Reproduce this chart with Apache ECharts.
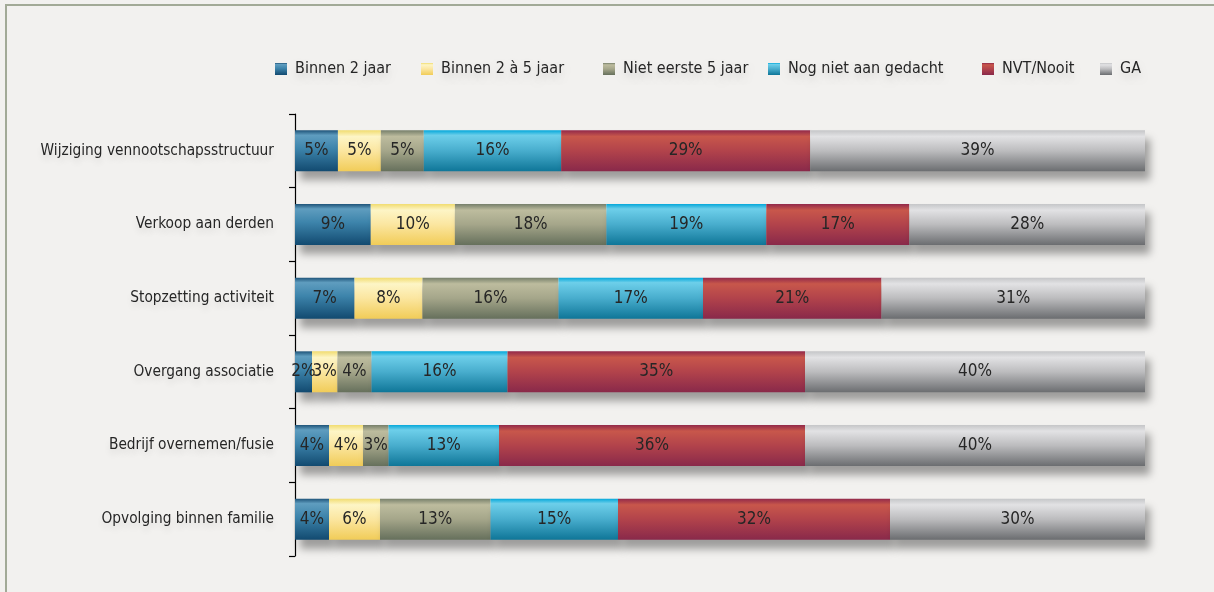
<!DOCTYPE html>
<html>
<head>
<meta charset="utf-8">
<script src="https://cdn.jsdelivr.net/npm/echarts@6/dist/echarts.min.js"></script>
<style>
html,body{margin:0;padding:0;background:#f2f1ef;}
#chart{width:1214px;height:592px;}
</style>
</head>
<body>
<div id="chart"></div>
<script>
var categories = [
  'Wijziging vennootschapsstructuur',
  'Verkoop aan derden',
  'Stopzetting activiteit',
  'Overgang associatie',
  'Bedrijf overnemen/fusie',
  'Opvolging binnen familie'
];
var seriesNames = ['Binnen 2 jaar', 'Binnen 2 à 5 jaar', 'Niet eerste 5 jaar', 'Nog niet aan gedacht', 'NVT/Nooit', 'GA'];
var binnen2 = [5, 9, 7, 2, 4, 4];
var binnen2tot5 = [5, 10, 8, 3, 4, 6];
var nietEerste5 = [5, 18, 16, 4, 3, 13];
var nogNiet = [16, 19, 17, 16, 13, 15];
var nvtNooit = [29, 17, 21, 35, 36, 32];
var ga = [39, 28, 31, 40, 40, 30];

var allValues = [binnen2, binnen2tot5, nietEerste5, nogNiet, nvtNooit, ga];

var FONT = '"Liberation Sans Narrow", "DejaVu Sans Condensed", "Open Sans", sans-serif';

function grad(stops) {
  return new echarts.graphic.LinearGradient(0, 0, 0, 1, stops.map(function (s) {
    return { offset: s[0], color: s[1] };
  }));
}
var gradients = [
  grad([[0, '#1f5479'], [0.12, '#5f9dbf'], [0.45, '#3d84ab'], [1, '#124a70']]),
  grad([[0, '#f1dc70'], [0.15, '#fdf5c6'], [0.5, '#fbe6a0'], [1, '#f1cc58']]),
  grad([[0, '#767f6a'], [0.15, '#bdbc9e'], [0.5, '#a5a68a'], [1, '#66705c']]),
  grad([[0, '#05a8da'], [0.12, '#6dcfea'], [0.5, '#48adcd'], [1, '#0f7698']]),
  grad([[0, '#92294a'], [0.15, '#c8574b'], [0.5, '#b2434b'], [1, '#89294a']]),
  grad([[0, '#c5c6c8'], [0.15, '#e2e2e4'], [0.5, '#bcbcbe'], [1, '#6b6d70']])
];

// row totals used to normalise each bar to 100%
var rowTotals = categories.map(function (c, i) {
  return allValues.reduce(function (s, arr) { return s + arr[i]; }, 0);
});

var series = seriesNames.map(function (name, k) {
  return {
    name: name,
    type: 'bar',
    stack: 'total',
    barWidth: 41,
    data: allValues[k].map(function (v, i) {
      return { value: v / rowTotals[i] * 100, raw: v };
    }),
    itemStyle: {
      color: gradients[k],
      shadowColor: 'rgba(0,0,0,0.35)',
      shadowBlur: 8,
      shadowOffsetX: 5,
      shadowOffsetY: 9
    },
    label: {
      show: true,
      position: 'inside',
      fontFamily: FONT,
      fontSize: 17,
      color: '#262626',
      formatter: function (p) { return p.data.raw + '%'; }
    },
    emphasis: { disabled: true }
  };
});

var textShadow = {
  textShadowColor: 'rgba(0,0,0,0.10)',
  textShadowBlur: 6,
  textShadowOffsetY: 5
};

// one legend per item so each sits where the reference places it
var legendLefts = [275, 421, 603, 768, 982, 1100];
var legends = seriesNames.map(function (name, k) {
  return {
    top: 61,
    left: legendLefts[k],
    padding: 0,
    itemWidth: 12,
    itemHeight: 12,
    icon: 'rect',
    selectedMode: false,
    textStyle: Object.assign({
      fontFamily: FONT,
      fontSize: 16,
      color: '#262626',
      padding: [0, 0, 0, 3]
    }, textShadow),
    data: [name]
  };
});

var chart = echarts.init(document.getElementById('chart'));
chart.setOption({
  backgroundColor: '#f2f1ef',
  animation: false,
  graphic: [{
    type: 'rect',
    shape: { x: 6, y: 5, width: 1300, height: 700 },
    style: { fill: 'none', stroke: '#a2aa97', lineWidth: 2 },
    silent: true,
    z: -1
  }],
  legend: legends,
  grid: {
    left: 295,
    right: 69,
    top: 114,
    bottom: 36,
    containLabel: false
  },
  xAxis: {
    type: 'value',
    min: 0,
    max: 100,
    show: false
  },
  yAxis: {
    type: 'category',
    inverse: true,
    data: categories,
    axisLine: { show: true, lineStyle: { color: '#000', width: 1.2 } },
    axisTick: { show: true, length: 6, lineStyle: { color: '#000', width: 1.2 } },
    axisLabel: Object.assign({
      fontFamily: FONT,
      fontSize: 15.3,
      color: '#262626',
      margin: 21
    }, textShadow)
  },
  series: series
});
</script>
</body>
</html>
